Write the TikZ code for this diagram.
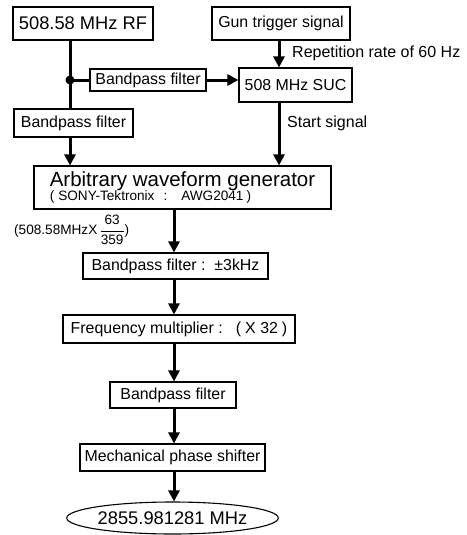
\documentclass[tikz,border=0pt]{standalone}
\usepackage{amsmath}
\usepackage{fontspec}
\setmainfont{Liberation Sans}
\usetikzlibrary{arrows.meta,shapes.geometric}
\tikzset{
  box/.style={draw, line width=1.1pt, inner sep=0pt, minimum width=#1},
  fs/.style={font=\fontsize{#1}{#1}\selectfont},
  conn/.style={line width=3pt},
  arr/.style={line width=3pt, -{Triangle[length=11pt,width=11pt]}},
  lab/.style={anchor=west, inner sep=0pt, font=\fontsize{16}{18}\selectfont}
}
\begin{document}
\begin{tikzpicture}[x=1pt,y=-1pt]
\useasboundingbox (0,0) rectangle (466,535);
% nodes
\node[box=140, minimum height=33, fs=18.3] (rf) at (83,23.5) {508.58 MHz RF};
\node[box=138, minimum height=33, fs=15.9] (gun) at (281,23.5) {Gun trigger signal};
\node[box=116, minimum height=22, fs=15.9] (bpm) at (148,80) {Bandpass filter};
\node[box=113, minimum height=34, fs=15.9] (suc) at (295.5,85) {508 MHz SUC};
\node[box=119, minimum height=28, fs=15.9] (bpl) at (73.5,123) {Bandpass filter};
\node[box=297, minimum height=43, align=left] (awg) at (182.5,187.5)
  {{\fontsize{20.5}{20}\selectfont Arbitrary waveform generator}\\[-1pt]
   {\fontsize{13.6}{14}\selectfont (\hspace{4pt}SONY-Tektronix\hspace{9pt}:\hspace{14pt}AWG2041\hspace{3pt})}};
\node[box=185, minimum height=26, fs=15.9] (bp3) at (175.5,266) {Bandpass filter :\ \ ±3kHz};
\node[box=232, minimum height=28, fs=15.9] (fm) at (179,329) {Frequency multiplier :\ \ \ (\hspace{4pt}X 32\hspace{4pt})};
\node[box=126, minimum height=26, fs=15.9] (bp) at (173,395) {Bandpass filter};
\node[box=185, minimum height=27, fs=15.9] (mps) at (172.5,457.5) {Mechanical phase shifter};
\node[draw, ellipse, line width=1.1pt, inner sep=0pt, minimum width=185, minimum height=32, fs=18.3] (out) at (172.5,518) {2855.981281 MHz};
% labels
\node[lab] (rep) at (292,53) {Repetition rate of 60 Hz};
\node[lab] (start) at (287,123) {Start signal};
\node[anchor=west, inner sep=0pt, font=\fontsize{13.6}{14}\selectfont] (ratio) at (14,230)
  {(508.58MHzX\,$\dfrac{\text{63}}{\text{359}}$)};
% coordinates
\coordinate (j) at (70,80);
\coordinate (c) at (279,0);
\coordinate (m) at (174,0);
% connectors
\draw[conn] (rf.south -| j) -- (j) -- (bpl.north -| j);
\fill (j) circle (4.5);
\draw[conn] (j) -- (bpm.west);
\draw[arr] (bpm.east) -- (suc.west |- bpm.east);
\draw[arr] (gun.south -| c) -- (suc.north -| c);
\draw[arr] (suc.south -| c) -- (awg.north -| c);
\draw[arr] (bpl.south -| j) -- (awg.north -| j);
\draw[arr] (awg.south -| m) -- (bp3.north -| m);
\draw[arr] (bp3.south -| m) -- (fm.north -| m);
\draw[arr] (fm.south -| m) -- (bp.north -| m);
\draw[arr] (bp.south -| m) -- (mps.north -| m);
\draw[arr] (mps.south -| m) -- (out.north -| m);
\end{tikzpicture}
\end{document}
